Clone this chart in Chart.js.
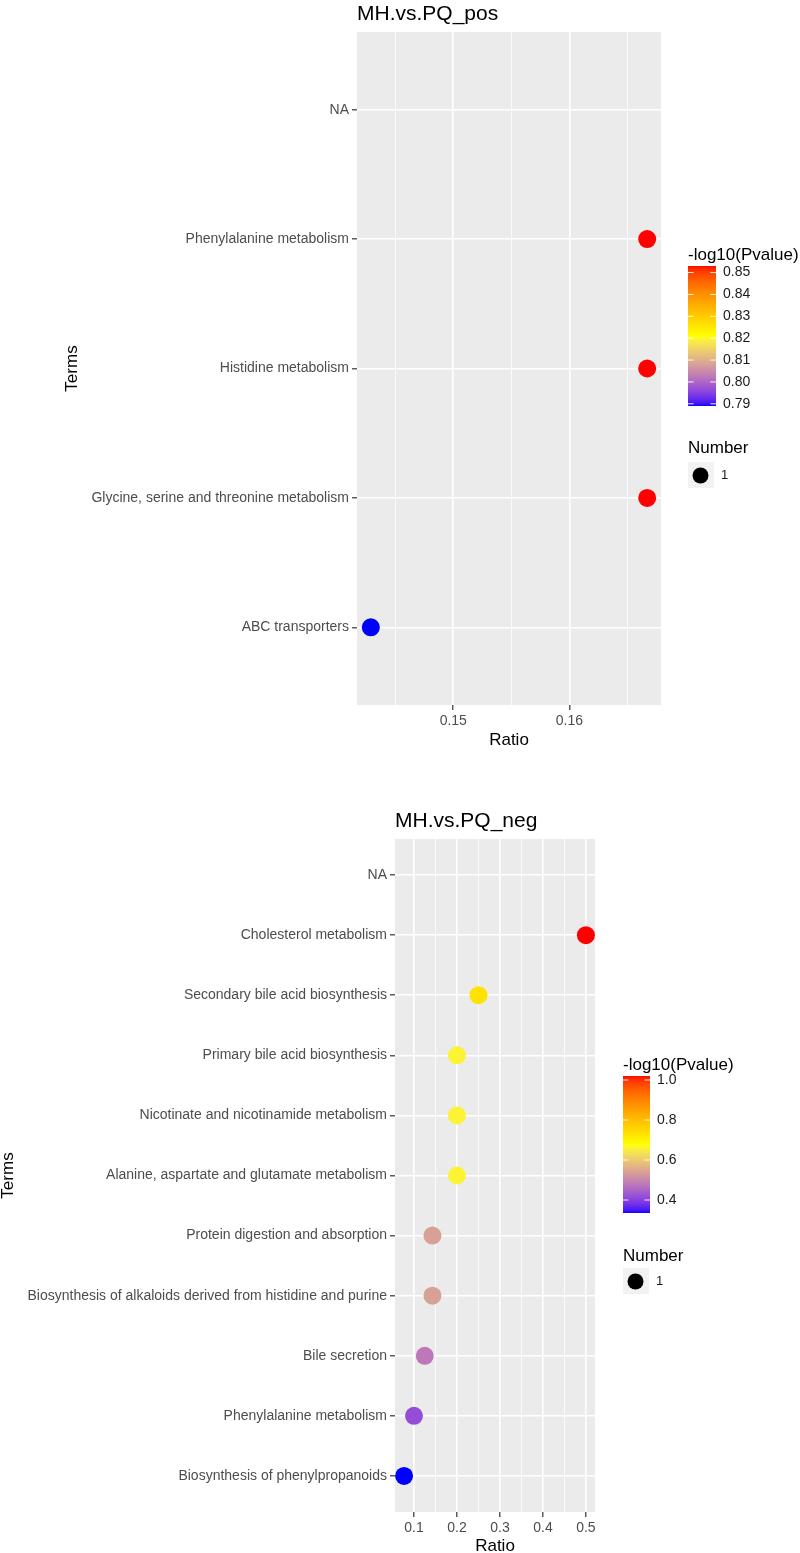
<!DOCTYPE html>
<html>
<head>
<meta charset="utf-8">
<script src="https://cdn.jsdelivr.net/npm/chart.js@4.4.1/dist/chart.umd.min.js"></script>
<style>
  body { margin: 0; background: #fff; overflow: hidden; }
  #wrap { position: relative; width: 800px; height: 1553px; overflow: hidden; }
  canvas { position: absolute; left: 0; }
</style>
</head>
<body>
<div id="wrap">
  <canvas id="posChart" width="800" height="760" style="top:0"></canvas>
  <canvas id="negChart" width="800" height="800" style="top:760px"></canvas>
</div>
<script>
Chart.defaults.font.family = '"Liberation Sans", Arial, Helvetica, sans-serif';
Chart.defaults.animation = false;

// ---- MH.vs.PQ_pos (terms listed bottom -> top)
const posTerms = ['ABC transporters', 'Glycine, serine and threonine metabolism', 'Histidine metabolism', 'Phenylalanine metabolism', 'NA'];
const posRatio = [0.1429, 0.1667, 0.1667, 0.1667, null];
const posLogP = [0.789, 0.853, 0.853, 0.853, null];
const posNumber = [1, 1, 1, 1, null];
const posRatioTicks = [0.15, 0.16];
const posRatioMinor = [0.145, 0.155, 0.165];
const posColourTicks = [0.79, 0.80, 0.81, 0.82, 0.83, 0.84, 0.85];

// ---- MH.vs.PQ_neg
const negTerms = ['Biosynthesis of phenylpropanoids', 'Phenylalanine metabolism', 'Bile secretion',
  'Biosynthesis of alkaloids derived from histidine and purine', 'Protein digestion and absorption',
  'Alanine, aspartate and glutamate metabolism', 'Nicotinate and nicotinamide metabolism',
  'Primary bile acid biosynthesis', 'Secondary bile acid biosynthesis', 'Cholesterol metabolism', 'NA'];
const negRatio = [0.0769, 0.1, 0.125, 0.1429, 0.1429, 0.2, 0.2, 0.2, 0.25, 0.5, null];
const negLogP = [0.335, 0.417, 0.479, 0.54, 0.54, 0.66, 0.66, 0.66, 0.73, 1.02, null];
const negNumber = [1, 1, 1, 1, 1, 1, 1, 1, 1, 1, null];
const negRatioTicks = [0.1, 0.2, 0.3, 0.4, 0.5];
const negRatioMinor = [0.15, 0.25, 0.35, 0.45];
const negColourTicks = [0.4, 0.6, 0.8, 1.0];

const gradientColours = ['#0000FF', '#FFFF00', '#FF0000'];

// --- colour scale, interpolated in Lab like ggplot
function hexToLab(hex) {
  const c = [1, 3, 5].map(i => parseInt(hex.substr(i, 2), 16) / 255)
    .map(v => v <= 0.04045 ? v / 12.92 : Math.pow((v + 0.055) / 1.055, 2.4));
  const X = (0.4124 * c[0] + 0.3576 * c[1] + 0.1805 * c[2]) / 0.95047;
  const Y = 0.2126 * c[0] + 0.7152 * c[1] + 0.0722 * c[2];
  const Z = (0.0193 * c[0] + 0.1192 * c[1] + 0.9505 * c[2]) / 1.08883;
  const f = t => t > 0.008856 ? Math.cbrt(t) : 7.787 * t + 16 / 116;
  return [116 * f(Y) - 16, 500 * (f(X) - f(Y)), 200 * (f(Y) - f(Z))];
}
function labToRgb(L, a, b) {
  const fy = (L + 16) / 116, fx = fy + a / 500, fz = fy - b / 200;
  const inv = f => f * f * f > 0.008856 ? f * f * f : (f - 16 / 116) / 7.787;
  const X = inv(fx) * 0.95047, Y = inv(fy), Z = inv(fz) * 1.08883;
  const lin = [3.2406 * X - 1.5372 * Y - 0.4986 * Z,
    -0.9689 * X + 1.8758 * Y + 0.0415 * Z,
    0.0557 * X - 0.2040 * Y + 1.0570 * Z];
  const out = lin.map(v => v <= 0.0031308 ? 12.92 * v : 1.055 * Math.pow(v, 1 / 2.4) - 0.055)
    .map(v => Math.round(Math.min(1, Math.max(0, v)) * 255));
  return 'rgb(' + out.join(',') + ')';
}
const gradientLab = gradientColours.map(hexToLab);
function colourAt(t) {
  t = Math.min(1, Math.max(0, t));
  const n = gradientLab.length - 1;
  const seg = Math.min(n - 1, Math.floor(t * n));
  const u = t * n - seg;
  const a = gradientLab[seg], b = gradientLab[seg + 1];
  return labToRgb(a[0] + (b[0] - a[0]) * u, a[1] + (b[1] - a[1]) * u, a[2] + (b[2] - a[2]) * u);
}

const legendPlugin = {
  id: 'ggExtras',
  beforeDraw(chart, args, o) {
    const {ctx, chartArea: a} = chart;
    ctx.save();
    ctx.fillStyle = '#EBEBEB';
    ctx.fillRect(a.left, a.top, a.right - a.left, a.bottom - a.top);
    ctx.restore();
  },
  afterDraw(chart, args, o) {
    const {ctx, chartArea: a} = chart;
    ctx.save();
    // plot title
    ctx.fillStyle = '#000';
    ctx.font = '21px "Liberation Sans", Arial, sans-serif';
    ctx.textBaseline = 'alphabetic';
    ctx.textAlign = 'left';
    ctx.fillText(o.title, a.left, o.titleBaseline);

    // colour bar
    const L = o.legend;
    ctx.font = '17px "Liberation Sans", Arial, sans-serif';
    ctx.textBaseline = 'middle';
    ctx.fillText('-log10(Pvalue)', L.x, L.titleY);
    const lo = o.cmin, hi = o.cmax;
    const h = L.barBottom - L.barTop;
    for (let y = 0; y < h; y++) {
      ctx.fillStyle = colourAt(1 - (y + 0.5) / h);
      ctx.fillRect(L.x, L.barTop + y, L.barW, 1);
    }
    ctx.font = '14px "Liberation Sans", Arial, sans-serif';
    o.colourTicks.forEach(v => {
      const y = L.barBottom - (v - lo) / (hi - lo) * h;
      ctx.strokeStyle = 'rgba(255,255,255,0.9)';
      ctx.lineWidth = 1;
      ctx.beginPath();
      ctx.moveTo(L.x, y); ctx.lineTo(L.x + L.barW / 5, y);
      ctx.moveTo(L.x + L.barW * 4 / 5, y); ctx.lineTo(L.x + L.barW, y);
      ctx.stroke();
      ctx.fillStyle = '#1A1A1A';
      ctx.fillText(v.toFixed(o.colourDigits), L.x + L.barW + 7, y);
    });

    // size legend
    ctx.fillStyle = '#000';
    ctx.font = '17px "Liberation Sans", Arial, sans-serif';
    ctx.fillText('Number', L.x, L.numberY);
    ctx.fillStyle = '#F2F2F2';
    ctx.fillRect(L.x, L.keyTop, 26, 26);
    ctx.fillStyle = '#000';
    ctx.beginPath();
    ctx.arc(L.x + 12.5, L.keyTop + 13.5, 8, 0, Math.PI * 2);
    ctx.fill();
    ctx.fillStyle = '#1A1A1A';
    ctx.font = '13px "Liberation Sans", Arial, sans-serif';
    ctx.fillText(String(o.numberLabel), L.x + 33, L.keyTop + 13.5);
    ctx.restore();
  }
};

function makeChart(id, s) {
  const xs = s.ratio.filter(v => v != null);
  const lo = Math.min(...xs), hi = Math.max(...xs);
  const pad = (hi - lo) * 0.05;
  const cs = s.logp.filter(v => v != null);
  const cmin = Math.min(...cs), cmax = Math.max(...cs);
  const points = [];
  s.ratio.forEach((r, i) => {
    if (r != null) points.push({x: r, y: i, v: s.logp[i], n: s.number[i]});
  });
  const xTicks = s.major.map(v => ({value: v, major: true}))
    .concat(s.minor.map(v => ({value: v, major: false})))
    .sort((p, q) => p.value - q.value);

  return new Chart(document.getElementById(id), {
    type: 'scatter',
    data: {
      datasets: [{
        data: points,
        backgroundColor: c => c.raw ? colourAt((c.raw.v - cmin) / (cmax - cmin)) : '#000',
        borderWidth: 0,
        pointRadius: 9,
        pointHoverRadius: 9,
        clip: false
      }]
    },
    options: {
      responsive: false,
      layout: {padding: {top: s.box.top, right: 800 - s.box.right, left: 0, bottom: 0}},
      plugins: {
        legend: {display: false},
        tooltip: {enabled: false},
        ggExtras: {
          title: s.title, titleBaseline: s.titleBaseline, legend: s.legend,
          cmin: cmin, cmax: cmax, colourTicks: s.colourTicks, colourDigits: s.colourDigits,
          numberLabel: s.number.find(v => v != null)
        }
      },
      scales: {
        x: {
          type: 'linear',
          min: lo - pad,
          max: hi + pad,
          afterBuildTicks: sc => { sc.ticks = xTicks.map(t => ({value: t.value, major: t.major})); },
          afterFit: sc => { sc.height = s.xAxisH; },
          border: {display: false},
          grid: {
            color: '#FFFFFF',
            lineWidth: c => (c.tick && c.tick.major) ? 1.6 : 0.8,
            tickLength: 5,
            tickWidth: 1.2,
            tickColor: c => (c.tick && c.tick.major) ? '#333333' : 'rgba(0,0,0,0)'
          },
          ticks: {
            autoSkip: false,
            maxRotation: 0,
            padding: 3,
            color: '#4D4D4D',
            font: {size: 14},
            callback: (v, i, t) => t[i].major ? v.toFixed(s.xDigits) : ''
          },
          title: {display: true, text: 'Ratio', color: '#000', font: {size: 17, lineHeight: 1}, padding: {top: 0, bottom: s.ratioPad}}
        },
        y: {
          type: 'linear',
          min: -0.6,
          max: s.terms.length - 1 + 0.6,
          afterBuildTicks: sc => { sc.ticks = s.terms.map((t, i) => ({value: i})); },
          afterFit: sc => { sc.width = s.box.left; },
          border: {display: false},
          grid: {color: '#FFFFFF', lineWidth: 1.6, tickLength: 5, tickWidth: 1.2, tickColor: '#333333'},
          ticks: {
            autoSkip: false,
            padding: 3,
            color: '#4D4D4D',
            font: {size: 14},
            callback: v => s.terms[v]
          },
          title: {display: true, text: 'Terms', color: '#000', font: {size: 17, lineHeight: 1}, padding: {top: s.termsPad, bottom: 0}}
        }
      }
    },
    plugins: [legendPlugin]
  });
}

makeChart('posChart', {
  title: 'MH.vs.PQ_pos', titleBaseline: 20,
  terms: posTerms, ratio: posRatio, logp: posLogP, number: posNumber,
  major: posRatioTicks, minor: posRatioMinor, xDigits: 2,
  colourTicks: posColourTicks, colourDigits: 2,
  box: {left: 357, right: 661, top: 32},
  xAxisH: 55, ratioPad: 11, termsPad: 64,
  legend: {x: 688, titleY: 255, barTop: 266, barBottom: 406, barW: 28, numberY: 448, keyTop: 462}
});

makeChart('negChart', {
  title: 'MH.vs.PQ_neg', titleBaseline: 67,
  terms: negTerms, ratio: negRatio, logp: negLogP, number: negNumber,
  major: negRatioTicks, minor: negRatioMinor, xDigits: 1,
  colourTicks: negColourTicks, colourDigits: 1,
  box: {left: 395, right: 595, top: 79},
  xAxisH: 48, ratioPad: 5, termsPad: 0,
  legend: {x: 623, titleY: 305, barTop: 316, barBottom: 453, barW: 27, numberY: 496, keyTop: 508}
});
</script>
</body>
</html>
